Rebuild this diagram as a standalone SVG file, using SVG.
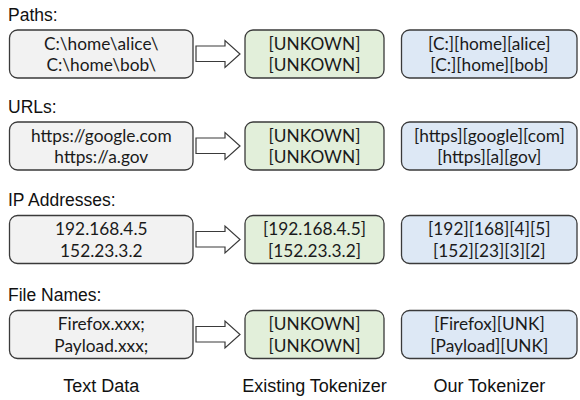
<svg xmlns="http://www.w3.org/2000/svg" width="580" height="400" viewBox="0 0 580 400">
  <defs>
    <style>
      .cat { font-family: "Liberation Sans", Arial, sans-serif; font-size: 17.5px; fill: #111; }
      .box { stroke: #3a3a3a; stroke-width: 1.3; }
      .raw { fill: #f2f2f2; }
      .old { fill: #e2efda; }
      .new { fill: #dde8f5; }
      .tok { font-family: Lato, "Open Sans", sans-serif; font-size: 17.3px; fill: #1a1a1a; text-anchor: middle; }
      .arrow { fill: #ffffff; stroke: #3a3a3a; stroke-width: 1.2; stroke-linejoin: miter; }
      .col { font-family: "Liberation Sans", Arial, sans-serif; font-size: 18px; fill: #111; text-anchor: middle; }
    </style>
    <polygon id="blockArrow" class="arrow" points="196,-8 225,-8 225,-13.5 240,0 225,13.5 225,7.5 196,7.5"/>
  </defs>

  <rect width="580" height="400" fill="#ffffff"/>

  <!-- category labels -->
  <text class="cat" x="8" y="21">Paths:</text>
  <text class="cat" x="8" y="113">URLs:</text>
  <text class="cat" x="8" y="206">IP Addresses:</text>
  <text class="cat" x="8" y="301">File Names:</text>

  <!-- row 1: paths -->
  <g id="paths-text">
    <rect class="box raw" x="9.5" y="30" width="183.5" height="48" rx="8"/>
    <text class="tok" x="101.3" y="49.5">C:\home\alice\</text>
    <text class="tok" x="101.3" y="71">C:\home\bob\</text>
  </g>
  <g id="paths-existing">
    <rect class="box old" x="245" y="30" width="139" height="48" rx="8"/>
    <text class="tok" x="314.5" y="49.5">[UNKOWN]</text>
    <text class="tok" x="314.5" y="71">[UNKOWN]</text>
  </g>
  <g id="paths-ours">
    <rect class="box new" x="401.5" y="30" width="175.5" height="48" rx="8"/>
    <text class="tok" x="489.3" y="49.5">[C:][home][alice]</text>
    <text class="tok" x="489.3" y="71">[C:][home][bob]</text>
  </g>

  <!-- row 2: URLs -->
  <g id="urls-text">
    <rect class="box raw" x="9.5" y="122" width="183.5" height="48" rx="8"/>
    <text class="tok" x="101.3" y="141.5">https://google.com</text>
    <text class="tok" x="101.3" y="163">https://a.gov</text>
  </g>
  <g id="urls-existing">
    <rect class="box old" x="245" y="122" width="139" height="48" rx="8"/>
    <text class="tok" x="314.5" y="141.5">[UNKOWN]</text>
    <text class="tok" x="314.5" y="163">[UNKOWN]</text>
  </g>
  <g id="urls-ours">
    <rect class="box new" x="401.5" y="122" width="175.5" height="48" rx="8"/>
    <text class="tok" x="489.3" y="141.5">[https][google][com]</text>
    <text class="tok" x="489.3" y="163">[https][a][gov]</text>
  </g>

  <!-- row 3: IP addresses -->
  <g id="ip-text">
    <rect class="box raw" x="9.5" y="215.5" width="183.5" height="48" rx="8"/>
    <text class="tok" x="101.3" y="235">192.168.4.5</text>
    <text class="tok" x="101.3" y="256.5">152.23.3.2</text>
  </g>
  <g id="ip-existing">
    <rect class="box old" x="245" y="215.5" width="139" height="48" rx="8"/>
    <text class="tok" x="314.5" y="235">[192.168.4.5]</text>
    <text class="tok" x="314.5" y="256.5">[152.23.3.2]</text>
  </g>
  <g id="ip-ours">
    <rect class="box new" x="401.5" y="215.5" width="175.5" height="48" rx="8"/>
    <text class="tok" x="489.3" y="235">[192][168][4][5]</text>
    <text class="tok" x="489.3" y="256.5">[152][23][3][2]</text>
  </g>

  <!-- row 4: file names -->
  <g id="files-text">
    <rect class="box raw" x="9.5" y="310.5" width="183.5" height="48" rx="8"/>
    <text class="tok" x="101.3" y="330">Firefox.xxx;</text>
    <text class="tok" x="101.3" y="351.5">Payload.xxx;</text>
  </g>
  <g id="files-existing">
    <rect class="box old" x="245" y="310.5" width="139" height="48" rx="8"/>
    <text class="tok" x="314.5" y="330">[UNKOWN]</text>
    <text class="tok" x="314.5" y="351.5">[UNKOWN]</text>
  </g>
  <g id="files-ours">
    <rect class="box new" x="401.5" y="310.5" width="175.5" height="48" rx="8"/>
    <text class="tok" x="489.3" y="330">[Firefox][UNK]</text>
    <text class="tok" x="489.3" y="351.5">[Payload][UNK]</text>
  </g>

  <!-- block arrows from raw text to the existing tokenizer -->
  <g id="connectors">
    <use href="#blockArrow" y="54"/>
    <use href="#blockArrow" y="146"/>
    <use href="#blockArrow" y="239.5"/>
    <use href="#blockArrow" y="334.5"/>
  </g>

  <!-- column captions -->
  <text class="col" x="101.3" y="392">Text Data</text>
  <text class="col" x="314.5" y="392">Existing Tokenizer</text>
  <text class="col" x="489.3" y="392">Our Tokenizer</text>
</svg>
